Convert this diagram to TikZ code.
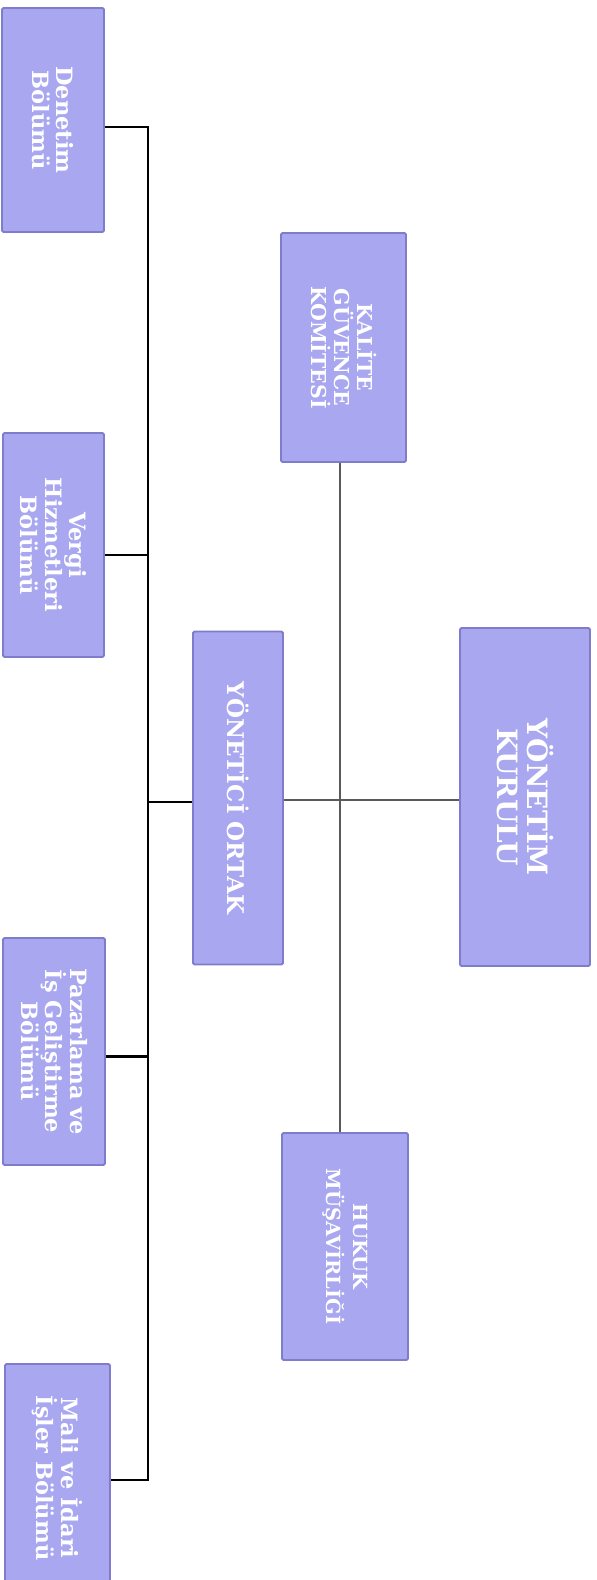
\documentclass[tikz,border=0pt]{standalone}
\usepackage{fontspec}
\setmainfont{DejaVu Serif}
\usetikzlibrary{calc}
\definecolor{boxfill}{HTML}{A9A7EF}
\definecolor{boxline}{HTML}{7F7DCB}
\definecolor{linegray}{HTML}{5A5A5A}
\tikzset{
  orgbox/.style={draw=boxline, fill=boxfill, line width=1.8pt, rounded corners=1.5pt,
    rotate=-90, align=center, text=white, inner sep=0pt},
  smalltext/.style={font=\bfseries\fontsize{22.5}{24.5}\selectfont},
  captext/.style={font=\bfseries\fontsize{23}{26}\selectfont},
  treeline/.style={black, line width=2.7pt},
  grayline/.style={linegray, line width=1.9pt}
}
\begin{document}
\begin{tikzpicture}[x=1pt,y=1pt]
\useasboundingbox[fill=white] (0,0) rectangle (597,-1580);
% left column
\node[orgbox, smalltext, minimum width=224pt, minimum height=102pt] (den) at (53,-120) {Denetim\\Bölümü};
\node[orgbox, smalltext, minimum width=224pt, minimum height=101pt] (ver) at (53.5,-545) {Vergi\\Hizmetleri\\Bölümü};
\node[orgbox, smalltext, minimum width=227pt, minimum height=102pt] (paz) at (54,-1051.5) {Pazarlama ve\\İş Geliştirme\\Bölümü};
\node[orgbox, smalltext, minimum width=228pt, minimum height=105pt] (mal) at (57.5,-1478) {Mali ve İdari\\İşler Bölümü};
% middle
\node[orgbox, captext, minimum width=333pt, minimum height=90pt] (ort) at (238,-798) {YÖNETİCİ ORTAK};
\node[orgbox, font=\bfseries\fontsize{20.5}{23}\selectfont, minimum width=229pt, minimum height=125pt] (kal) at (343.5,-347.5) {KALİTE\\GÜVENCE\\KOMİTESİ};
\node[orgbox, font=\bfseries\fontsize{19.5}{27}\selectfont, minimum width=227pt, minimum height=126pt] (huk) at (345,-1246.5) {HUKUK\\MÜŞAVİRLİĞİ};
% right
\node[orgbox, font=\bfseries\fontsize{28}{30}\selectfont, minimum width=338pt, minimum height=130pt] (kur) at (525,-797) {YÖNETİM\\KURULU};
% connector anchors
\coordinate (bus) at (148,0);
\coordinate (vx) at (340,0);
\coordinate (den-c) at ($(den.north)+(0,-7)$);
\coordinate (ver-c) at ($(ver.north)+(0,-10)$);
\coordinate (paz-c) at ($(paz.north)+(0,-5)$);
\coordinate (mal-c) at ($(mal.north)+(0,-2)$);
\coordinate (ort-c) at ($(ort.south)+(0,-4)$);
% tree
\draw[treeline] (den-c) -- (den-c -| bus) -- (mal-c -| bus) -- (mal-c);
\draw[treeline] (ver-c) -- (ver-c -| bus);
\draw[treeline] (paz-c) -- (paz-c -| bus);
\draw[treeline] (ort-c) -- (ort-c -| bus);
% gray connectors
\draw[grayline] (kal.east -| vx) -- (huk.west -| vx);
\draw[grayline] ($(ort.north)+(0,-2)$) -- ($(ort.north -| kur.south)+(0,-2)$);
\end{tikzpicture}
\end{document}
